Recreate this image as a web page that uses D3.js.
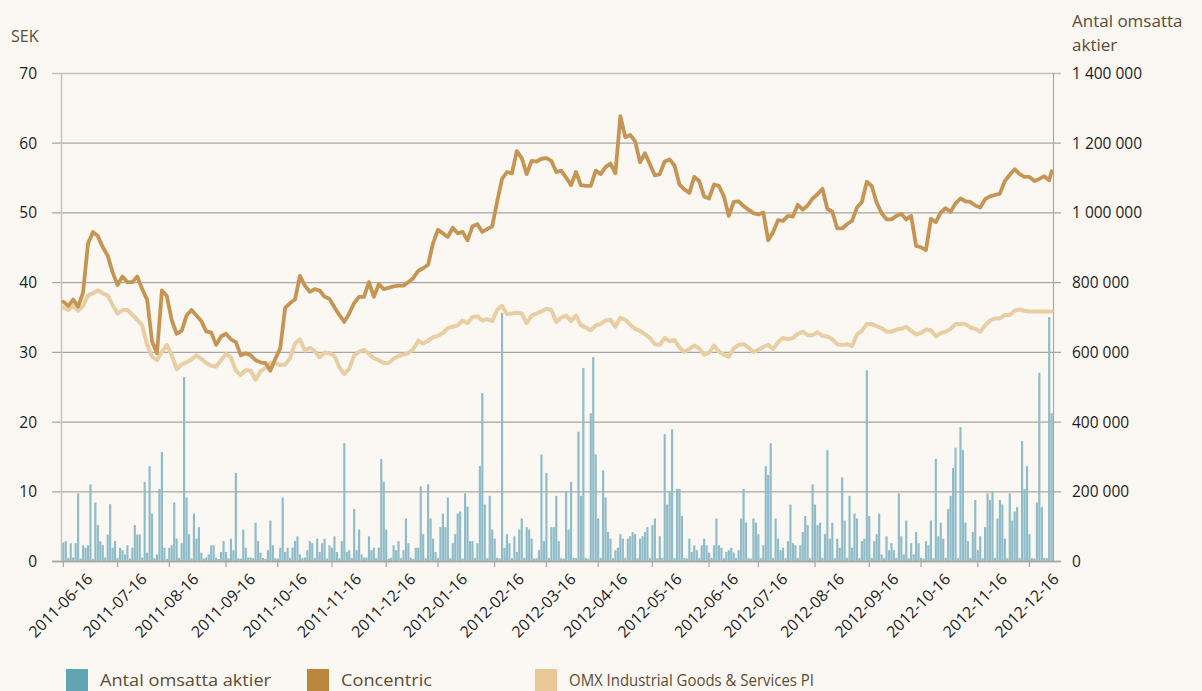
<!DOCTYPE html>
<html>
<head>
<meta charset="utf-8">
<script src="https://cdn.jsdelivr.net/npm/d3@7"></script>
<style>
body { margin: 0; background: #fbf8f3; }
svg { display: block; font-family: "Open Sans", sans-serif; }
</style>
</head>
<body>
<div id="chart"></div>
<script>
"use strict";

// daily traded volume, thousands of shares (one value per weekday from 2011-06-16)
var volume = [
    53,57,9,51,10,51,194,7,45,38,45,220,6,168,103,57,45,10,76,163,38,57,9,38,31,19,45,7,38,103,76,76,10,227,24,272,136,8,19,207,313,38,6,38,45,168,64,9,51,528,182,77,8,136,64,97,24,7,10,19,45,45,9,6,26,57,26,8,64,31,253,8,7,90,38,10,10,8,110,57,24,9,6,31,116,45,8,7,38,182,26,38,9,38,57,71,
    19,8,10,31,57,51,9,64,26,51,64,7,45,38,71,26,8,57,338,26,31,9,149,31,90,19,10,10,71,31,38,8,38,293,227,90,7,9,45,31,57,8,31,122,51,9,6,38,38,214,77,8,220,122,64,26,9,97,136,97,182,8,51,77,136,142,7,194,156,57,57,9,51,272,482,162,8,187,90,64,9,7,712,38,77,51,8,71,26,90,122,9,97,90,64,7,8,31,
    306,57,253,9,97,97,187,57,8,7,201,90,227,9,8,371,187,554,8,7,424,585,306,122,9,260,182,83,64,8,31,38,77,64,9,64,71,83,77,8,64,71,83,97,9,103,122,8,71,9,364,162,201,378,8,207,207,129,9,7,64,26,45,31,8,45,64,45,24,9,45,122,45,38,8,26,31,38,24,9,31,122,207,110,8,7,122,110,77,8,
    45,272,247,338,9,122,64,31,38,8,57,162,51,45,9,45,83,129,103,8,220,162,103,110,9,77,318,64,110,8,64,38,240,116,9,187,38,136,122,8,57,64,547,129,9,57,77,136,19,8,71,31,51,31,9,194,71,19,116,8,51,19,83,51,9,7,57,45,116,8,293,71,110,64,9,149,187,267,325,8,384,318,110,57,9,83,175,31,71,8,97,194,175,201,9,122,175,162,64,8,194,116,142,155,9,344,207,272,77,8,7,168,540,155,9,8,700,424
];

// closing prices, SEK, every second weekday plus the last day
var concentric = [
    37.2,36.6,37.5,36.5,38.5,45.5,47.2,46.6,45,43.8,
    41.4,39.6,40.8,40,40,40.8,39,37.5,31.5,29.8,
    38.8,38,34.5,32.6,33,35.2,36,35.2,34.4,32.9,
    32.8,31,32.2,32.6,31.8,31.4,29.5,29.8,29.5,28.8,
    28.5,28.4,27.3,29,30.5,36.3,37,37.5,40.9,39.5,
    38.6,39,38.8,37.9,37.6,36.4,35.3,34.3,35.5,37,
    37.9,37.9,40,37.9,39.7,39,39.2,39.4,39.5,39.5,
    40,40.6,41.6,42,42.5,45.6,47.5,47,46.5,47.8,
    47,47.2,46,48,48.3,47.2,47.6,48,51.5,54.8,
    55.8,55.6,58.8,57.8,55.5,57.4,57.3,57.7,57.8,57.4,
    55.8,56,55,53.9,55.8,53.9,53.8,53.8,56,55.5,
    56.5,57,55.6,63.8,60.8,61.1,60.2,57.2,58.5,56.9,
    55.3,55.5,57.3,57.6,56.7,54,53.3,52.8,55.1,54.5,
    52.3,52,54,53.8,52.3,49.5,51.5,51.6,50.9,50.4,
    49.9,49.7,50,46,47.2,48.9,48.8,49.5,49.4,51.1,
    50.4,51,52,52.6,53.4,50.5,50.1,47.7,47.7,48.3,
    48.8,50.7,51.5,54.4,53.8,51.4,49.9,49,49,49.5,
    49.8,49,49.5,45.2,45,44.6,49.1,48.6,50,50.6,
    50.1,51.3,52,51.6,51.5,51,50.7,51.9,52.3,52.5,
    52.7,54.5,55.4,56.2,55.5,55.1,55.1,54.5,54.8,55.2,
    54.6,55.9
];

// index rescaled to SEK, same days as concentric
var omx = [
    36.4,36,36.6,35.9,36.6,38.1,38.4,38.8,38.4,38.1,
    36.7,35.5,36,36,35.3,34.6,33.8,31,29.3,28.8,
    30,31,29.5,27.5,28.2,28.5,28.9,29.5,29,28.4,
    28,27.9,28.8,29.7,29.2,27.3,26.7,27.4,27.3,26,
    27.2,27.7,28.4,28.4,28.1,28.2,29.1,31.2,31.8,30.2,
    30.6,30.1,29.2,29.9,29.8,29.4,27.8,26.8,27.6,29.5,
    30,30.3,29.7,29.1,28.8,28.4,28.4,29,29.4,29.6,
    29.8,30.4,31.6,31.2,31.6,32.1,32.3,32.7,33.4,33.6,
    33.8,34.5,34.1,35,35.1,34.5,34.7,34.4,36,36.6,
    35.4,35.5,35.6,35.5,34.1,35.2,35.5,35.8,36.2,36,
    34.3,34.9,35.2,34.4,35.2,33.8,33.5,33.1,33.8,34,
    34.5,34.6,33.6,34.9,34.6,33.9,33.3,33,32.5,32,
    31.1,31,32,31.5,31.7,30.6,30,30.4,30.9,30.5,
    29.6,29.9,30.9,30,29.6,29.3,30.5,31,31.1,30.6,
    30,30.3,30.7,31,30.4,31.4,32,31.8,32,32.6,
    32.9,32.4,32.4,32.8,32.3,32.2,31.8,31.1,31,31.1,
    30.8,32.5,33,34,34,33.7,33.4,32.9,32.9,33.2,
    33.3,33.6,33,32.5,32.7,33.2,33.1,32.2,32.7,32.9,
    33.3,34,34,34,33.5,33.3,32.9,33.8,34.5,34.8,
    34.8,35.3,35.3,35.9,36.1,35.9,35.8,35.8,35.8,35.8,
    35.8,35.8
];

var monthTicks = ["2011-06-16","2011-07-16","2011-08-16","2011-09-16","2011-10-16","2011-11-16","2011-12-16",
    "2012-01-16","2012-02-16","2012-03-16","2012-04-16","2012-05-16","2012-06-16","2012-07-16",
    "2012-08-16","2012-09-16","2012-10-16","2012-11-16","2012-12-16"];
var sekTicks = [0, 10, 20, 30, 40, 50, 60, 70];
var volumeTicks = [0, 200000, 400000, 600000, 800000, 1000000, 1200000, 1400000];
var legendLabels = ["Antal omsatta aktier", "Concentric", "OMX Industrial Goods & Services PI"];
var legendColours = ["#62a5b2", "#bb853d", "#e8c897"];

var width = 1202;
var height = 691;
var plotLeft = 62, plotRight = 1053, plotTop = 73, plotBottom = 561;
var textColour = "#5c4b33";
var gridColour = "#a9a6a2";

var parseDate = d3.timeParse("%Y-%m-%d");

//trading days = weekdays from the first date
var days = d3.timeDay.range(parseDate("2011-06-16"), parseDate("2012-12-29"))
    .filter(function (d) { return d.getDay() !== 0 && d.getDay() !== 6; })
    .slice(0, volume.length);

var x = d3.scaleBand().domain(d3.range(days.length)).range([plotLeft, plotRight]).paddingInner(0.12).paddingOuter(0.1);
var ySek = d3.scaleLinear().domain([0, 70]).range([plotBottom, plotTop]);
var yVol = d3.scaleLinear().domain([0, 1400000]).range([plotBottom, plotTop]);

function centre(i) {
    return x(i) + x.bandwidth() / 2;
}

//line points sit on every second trading day, plus the last one
var lineIndex = d3.range(0, days.length - 1, 2).concat([days.length - 1]);

var svg = d3.select("#chart").append("svg").attr("width", width).attr("height", height);
svg.append("rect").attr("width", width).attr("height", height).attr("fill", "#fbf8f3");

//horizontal grid
svg.selectAll("line.grid").data(sekTicks).enter().append("line").attr("class", "grid")
    .attr("x1", 52).attr("x2", 1061)
    .attr("y1", function (d) { return ySek(d) + 0.5; }).attr("y2", function (d) { return ySek(d) + 0.5; })
    .style("stroke", function (d) { return d === 70 ? "#c3bfba" : gridColour; })
    .style("stroke-width", 1.3);

//vertical frame lines
svg.append("line").attr("x1", 61.5).attr("x2", 61.5).attr("y1", plotTop).attr("y2", plotBottom)
    .style("stroke", "#c9c4be").style("stroke-width", 1.6);
svg.append("line").attr("x1", plotRight + 0.5).attr("x2", plotRight + 0.5).attr("y1", plotTop).attr("y2", plotBottom)
    .style("stroke", gridColour).style("stroke-width", 1.1);

//volume bars
svg.selectAll("rect.vol").data(volume).enter().append("rect").attr("class", "vol")
    .attr("x", function (d, i) { return x(i); })
    .attr("width", x.bandwidth())
    .attr("y", function (d) { return yVol(d * 1000); })
    .attr("height", function (d) { return plotBottom - yVol(d * 1000); })
    .style("fill", "#8fbcc8");

//price lines
var line = d3.line()
    .x(function (d, k) { return centre(lineIndex[k]); })
    .y(function (d) { return ySek(d); });

svg.append("path").datum(omx).attr("d", line)
    .style("fill", "none").style("stroke", "#e9cea3").style("stroke-width", 4)
    .style("stroke-linejoin", "round").style("stroke-linecap", "round");

svg.append("path").datum(concentric).attr("d", line)
    .style("fill", "none").style("stroke", "#c69553").style("stroke-width", 3.8)
    .style("stroke-linejoin", "round").style("stroke-linecap", "round");

//bottom axis line and ticks
svg.append("line").attr("x1", 52).attr("x2", 1061).attr("y1", plotBottom + 0.5).attr("y2", plotBottom + 0.5)
    .style("stroke", gridColour).style("stroke-width", 1.3);

var tickPos = monthTicks.map(function (s) {
    var idx = d3.bisectLeft(days, parseDate(s));
    return { label: s, x: centre(idx) };
});

svg.selectAll("line.xtick").data(tickPos).enter().append("line").attr("class", "xtick")
    .attr("x1", function (d) { return d.x; }).attr("x2", function (d) { return d.x; })
    .attr("y1", plotBottom).attr("y2", plotBottom + 6)
    .style("stroke", gridColour).style("stroke-width", 1.2);

svg.selectAll("text.xlabel").data(tickPos).enter().append("text").attr("class", "xlabel")
    .attr("transform", function (d) { return "translate(" + (d.x - 3) + "," + 605 + ") rotate(-45)"; })
    .attr("text-anchor", "middle").attr("dominant-baseline", "central")
    .style("font-size", "15.8px").style("fill", "#1c1c1c")
    .text(function (d) { return d.label; });

//left axis labels
svg.selectAll("text.ylabel").data(sekTicks).enter().append("text").attr("class", "ylabel")
    .attr("x", 37).attr("y", function (d) { return ySek(d); })
    .attr("text-anchor", "end").attr("dominant-baseline", "central")
    .style("font-size", "15.5px").style("fill", "#1c1c1c")
    .text(function (d) { return d; });

//right axis labels
var svFormat = d3.formatLocale({ decimal: ",", thousands: " ", grouping: [3], currency: ["", " kr"] }).format(",d");
svg.selectAll("text.vlabel").data(volumeTicks).enter().append("text").attr("class", "vlabel")
    .attr("x", 1072).attr("y", function (d) { return yVol(d); })
    .attr("dominant-baseline", "central")
    .style("font-size", "15.5px").style("fill", "#1c1c1c")
    .text(function (d) { return svFormat(d); });

//axis titles
svg.append("text").attr("x", 11).attr("y", 42).style("font-size", "16px").style("fill", textColour).text("SEK");
svg.append("text").attr("x", 1072).attr("y", 27).style("font-size", "17px").style("fill", textColour).text("Antal omsatta");
svg.append("text").attr("x", 1072).attr("y", 51).style("font-size", "17px").style("fill", textColour).text("aktier");

//legend
var legendX = [66, 307, 535];
var legendWidth = [171, 91, 245];
var legend = svg.selectAll("g.legend").data(legendLabels).enter().append("g").attr("class", "legend")
    .attr("transform", function (d, i) { return "translate(" + legendX[i] + ",669)"; });
legend.append("rect").attr("width", 22).attr("height", 22)
    .style("fill", function (d, i) { return legendColours[i]; });
legend.append("text").attr("x", 34).attr("y", 17)
    .attr("textLength", function (d, i) { return legendWidth[i]; })
    .attr("lengthAdjust", "spacingAndGlyphs")
    .style("font-size", "17px").style("fill", textColour)
    .text(function (d) { return d; });
</script>
</body>
</html>
